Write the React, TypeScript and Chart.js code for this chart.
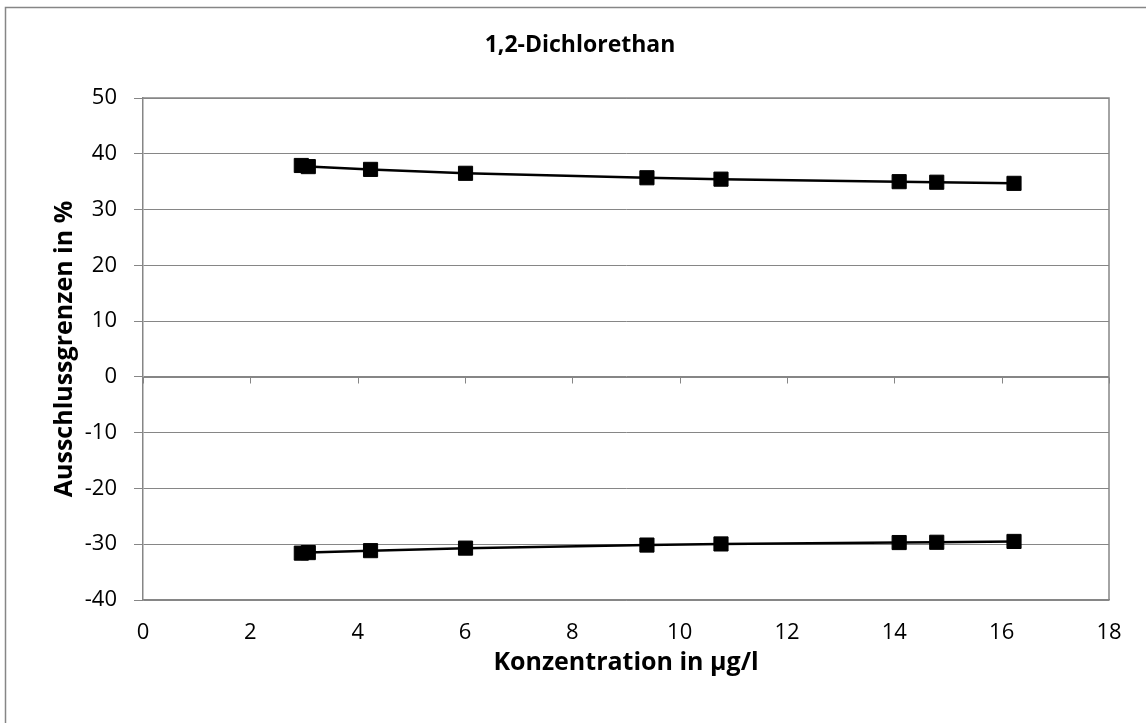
import React, { useEffect, useRef } from "react";
import { Chart, registerables } from "chart.js";

Chart.register(...registerables);

const chartTitle = "1,2-Dichlorethan";
const xAxisTitle = "Konzentration in µg/l";
const yAxisTitle = "Ausschlussgrenzen in %";

const concentrations = [2.95, 3.08, 4.24, 6.01, 9.39, 10.77, 14.09, 14.79, 16.23];
const upperLimits = [37.9, 37.7, 37.2, 36.5, 35.7, 35.45, 35.0, 34.9, 34.7];
const lowerLimits = [-31.6, -31.5, -31.15, -30.7, -30.15, -29.95, -29.7, -29.65, -29.5];

const xMin = 0;
const xMax = 18;
const xStep = 2;
const yMin = -40;
const yMax = 50;
const yStep = 10;

const FONT = "'Open Sans', sans-serif";
const GRID = "#868686";

const framePlugin = {
  id: "frame",
  beforeDraw(chart: any) {
    const { ctx } = chart;
    ctx.save();
    ctx.fillStyle = "#ffffff";
    ctx.fillRect(0, 0, chart.width, chart.height);
    ctx.strokeStyle = GRID;
    ctx.lineWidth = 1.5;
    ctx.strokeRect(5.5, 7.5, chart.width + 10, chart.height + 10);
    ctx.restore();
  },
  beforeDatasetsDraw(chart: any) {
    const { ctx, chartArea, scales } = chart;
    ctx.save();
    ctx.strokeStyle = GRID;
    ctx.lineWidth = 1.5;
    ctx.beginPath();
    ctx.moveTo(chartArea.left, chartArea.top);
    ctx.lineTo(chartArea.right, chartArea.top);
    ctx.lineTo(chartArea.right, chartArea.bottom);
    ctx.stroke();
    const y0 = Math.round(scales.y.getPixelForValue(0)) + 0.5;
    ctx.lineWidth = 1;
    ctx.beginPath();
    ctx.moveTo(chartArea.left, y0);
    ctx.lineTo(chartArea.right, y0);
    for (let v = xMin; v <= xMax; v += xStep) {
      const px = Math.round(scales.x.getPixelForValue(v)) + 0.5;
      ctx.moveTo(px, y0);
      ctx.lineTo(px, y0 + 6);
    }
    ctx.stroke();
    ctx.fillStyle = "#000";
    ctx.font = `bold 23px ${FONT}`;
    ctx.textAlign = "center";
    ctx.textBaseline = "middle";
    ctx.fillText(chartTitle, 580, 45);
    ctx.restore();
  },
};

export default function App() {
  const ref = useRef<HTMLCanvasElement>(null);
  useEffect(() => {
    document.body.style.margin = "0";
    const upper = concentrations.map((x, i) => ({ x, y: upperLimits[i] }));
    const lower = concentrations.map((x, i) => ({ x, y: lowerLimits[i] }));
    const ds = (data: any[]) => ({
      data,
      showLine: true,
      borderColor: "#000",
      backgroundColor: "#000",
      borderWidth: 2.5,
      pointStyle: "rect" as const,
      pointRadius: 10,
      pointBorderWidth: 1,
      pointBorderColor: "#000",
      pointBackgroundColor: "#000",
    });
    const chart = new Chart(ref.current as HTMLCanvasElement, {
      type: "scatter",
      data: { datasets: [ds(upper), ds(lower)] },
      plugins: [framePlugin],
      options: {
        animation: false,
        responsive: false,
        maintainAspectRatio: false,
        layout: { padding: { top: 98, right: 37, bottom: 0, left: 0 } },
        plugins: { legend: { display: false }, tooltip: { enabled: false }, title: { display: false } },
        scales: {
          x: {
            type: "linear",
            min: xMin,
            max: xMax,
            afterFit: (s: any) => { s.height = 123; },
            ticks: { stepSize: xStep, color: "#000", font: { family: FONT, size: 22 }, padding: 20 },
            grid: { display: false, drawTicks: false },
            border: { display: true, color: GRID, width: 1.5 },
            title: { display: true, text: xAxisTitle, color: "#000", font: { family: FONT, size: 25, weight: "bold" }, padding: { top: 0, bottom: 45 } },
          },
          y: {
            type: "linear",
            min: yMin,
            max: yMax,
            afterFit: (s: any) => { s.width = 143; },
            ticks: { stepSize: yStep, color: "#000", font: { family: FONT, size: 22 }, padding: 17 },
            grid: { color: GRID, lineWidth: 1, drawTicks: true, tickLength: 9 },
            border: { display: true, color: GRID, width: 1.5 },
            title: { display: true, text: yAxisTitle, color: "#000", font: { family: FONT, size: 25, weight: "bold" }, padding: { top: 50, bottom: 0 } },
          },
        },
      } as any,
    });
    return () => chart.destroy();
  }, []);
  return <canvas ref={ref} width={1146} height={723} style={{ display: "block" }} />;
}
